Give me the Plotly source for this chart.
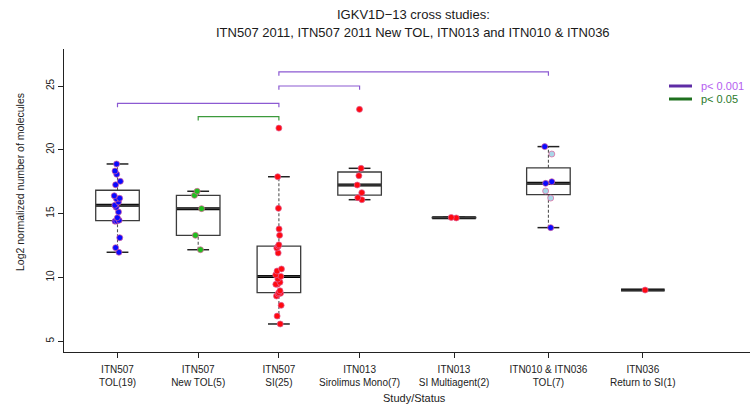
import numpy as np
import plotly.graph_objects as go

# ---- data -------------------------------------------------------------
groups = [
    "ITN507<br>TOL(19)",
    "ITN507<br>New TOL(5)",
    "ITN507<br>SI(25)",
    "ITN013<br>Sirolimus Mono(7)",
    "ITN013<br>SI Multiagent(2)",
    "ITN010 & ITN036<br>TOL(7)",
    "ITN036<br>Return to SI(1)",
]

itn507_tol = [11.97, 12.33, 13.11, 14.40, 14.42, 14.48, 14.68, 15.13, 15.50, 15.65,
              15.91, 16.17, 16.20, 16.40, 17.26, 17.53, 18.08, 18.34, 18.89]
itn507_new_tol = [12.17, 13.30, 15.39, 16.43, 16.75]
itn507_si = [6.35, 6.97, 7.81, 8.54, 8.70, 8.75, 8.80, 8.95, 9.46, 9.46, 9.62, 9.87,
             10.08, 10.20, 10.50, 10.66, 11.91, 12.30, 12.45, 12.55, 13.30, 13.80,
             15.41, 17.89, 21.70]
itn013_siro_mono = [16.09, 16.25, 16.64, 17.24, 17.97, 18.55, 23.17]
itn013_si_multi = [14.66, 14.70]
itn010_036_tol_a = [13.90, 17.37, 17.50, 20.25]      # filled blue
itn010_036_tol_b = [16.22, 16.77, 19.67]             # light blue
itn036_return_si = [9.01]

# pairwise comparisons: (group i, group j, bracket height, significance)
comparisons = [
    (0, 2, 23.64, "p< 0.001"),
    (1, 2, 22.60, "p< 0.05"),
    (2, 3, 25.00, "p< 0.001"),
    (2, 5, 26.10, "p< 0.001"),
]

# ---- layout constants ---------------------------------------------------
positions = [1, 2, 3, 4, 5.17, 6.34, 7.51]
BOX_W = 0.54
FONT = "Liberation Sans, Arial, sans-serif"
BLUE, GREEN, RED, LIGHT = "#0a0aff", "#1fbf1f", "#ff0a10", "#a9d6e8"
EDGE = "#e0609a"
SIG_COLORS = {"p< 0.001": "#8c5ad2", "p< 0.05": "#3c9a3c"}

group_values = [
    itn507_tol, itn507_new_tol, itn507_si, itn013_siro_mono, itn013_si_multi,
    itn010_036_tol_a + itn010_036_tol_b, itn036_return_si,
]

point_sets = [
    (0, itn507_tol, BLUE), (1, itn507_new_tol, GREEN), (2, itn507_si, RED),
    (3, itn013_siro_mono, RED), (4, itn013_si_multi, RED),
    (5, itn010_036_tol_a, BLUE), (5, itn010_036_tol_b, LIGHT),
    (6, itn036_return_si, RED),
]


def fivenum(v):
    """Tukey five-number summary (hinges), as used by boxplot()."""
    x = np.sort(np.asarray(v, float))
    n = len(x)
    n4 = np.floor((n + 3) / 2) / 2
    d = np.array([1, n4, (n + 1) / 2, n + 1 - n4, n])
    return 0.5 * (x[np.floor(d).astype(int) - 1] + x[np.ceil(d).astype(int) - 1])


stats = []
for vals in group_values:
    x = np.asarray(vals, float)
    _, q1, med, q3, _ = fivenum(x)
    iqr = q3 - q1
    lo = x[x >= q1 - 1.5 * iqr].min()
    hi = x[x <= q3 + 1.5 * iqr].max()
    stats.append((q1, med, q3, lo, hi))

fig = go.Figure()

# box bodies
fig.add_trace(go.Box(
    x=positions,
    q1=[s[0] for s in stats], median=[s[1] for s in stats], q3=[s[2] for s in stats],
    lowerfence=[s[0] for s in stats], upperfence=[s[2] for s in stats],
    width=BOX_W, whiskerwidth=0, fillcolor="rgba(0,0,0,0)",
    line=dict(color="#3c3c3c", width=1.3), hoverinfo="skip", showlegend=False,
))

shapes = []
for pos, (q1, med, q3, lo, hi) in zip(positions, stats):
    # dashed whiskers
    for a, b in ((q3, hi), (lo, q1)):
        if b > a:
            shapes.append(dict(type="line", xref="x", yref="y", x0=pos, x1=pos, y0=a, y1=b,
                               line=dict(color="#555555", width=1.1, dash="3px,2px"), layer="below"))
    # staples
    for yv in (lo, hi):
        shapes.append(dict(type="line", xref="x", yref="y", x0=pos - BOX_W / 4, x1=pos + BOX_W / 4,
                           y0=yv, y1=yv, line=dict(color="#222222", width=1.5), layer="below"))
    # heavy median
    shapes.append(dict(type="line", xref="x", yref="y", x0=pos - BOX_W / 2, x1=pos + BOX_W / 2,
                       y0=med, y1=med, line=dict(color="#000000", width=3), layer="below"))

# jittered sample points
for gi, vals, col in point_sets:
    fig.add_trace(go.Box(
        x=[positions[gi]] * len(vals), y=vals, boxpoints="all", jitter=0.2, pointpos=0,
        width=BOX_W, line=dict(width=0), fillcolor="rgba(0,0,0,0)", hoveron="points",
        marker=dict(color=col, size=6, line=dict(color=EDGE, width=0.7)),
        showlegend=False,
    ))

# significance brackets
for i, j, h, sig in comparisons:
    drop = 0.3
    fig.add_trace(go.Scatter(
        x=[positions[i], positions[i], positions[j], positions[j]],
        y=[h - drop, h, h, h - drop], mode="lines",
        line=dict(color=SIG_COLORS[sig], width=1.2), hoverinfo="skip", showlegend=False,
    ))

# key for the brackets
L, T, W, H = 64, 49, 750, 408
PW, PH = W - L, 352 - T
def px(x):
    return (x - L) / PW
def py(y):
    return (352 - y) / PH

legend_items = [("p< 0.001", "#5e2ca5", "#b45ef0", 86), ("p< 0.05", "#1e701e", "#2a7a2a", 99)]
annotations = []
for label, lcol, tcol, yy in legend_items:
    shapes.append(dict(type="line", xref="paper", yref="paper", x0=px(669), x1=px(692),
                       y0=py(yy), y1=py(yy), line=dict(color=lcol, width=3)))
    annotations.append(dict(text=label, xref="paper", yref="paper", x=px(699), y=py(yy),
                            xanchor="left", yanchor="middle", showarrow=False,
                            font=dict(family=FONT, size=11, color=tcol)))

annotations += [
    dict(text="IGKV1D\u221213 cross studies:", xref="paper", yref="paper", x=px(413), y=py(14),
         xanchor="center", yanchor="middle", showarrow=False,
         font=dict(family=FONT, size=13, color="#1a1a1a")),
    dict(text="ITN507 2011, ITN507 2011 New TOL, ITN013 and ITN010 & ITN036", xref="paper",
         yref="paper", x=px(413), y=py(32), xanchor="center", yanchor="middle", showarrow=False,
         font=dict(family=FONT, size=13, color="#1a1a1a")),
    dict(text="Study/Status", xref="paper", yref="paper", x=px(414), y=py(398),
         xanchor="center", yanchor="middle", showarrow=False,
         font=dict(family=FONT, size=11, color="#222")),
    dict(text="Log2 normalized number of molecules", xref="paper", yref="paper", x=px(20),
         y=py(182), xanchor="center", yanchor="middle", textangle=-90, showarrow=False,
         font=dict(family=FONT, size=10.5, color="#222")),
]

fig.update_layout(
    width=W, height=H, margin=dict(l=L, r=0, t=T, b=H - 352),
    plot_bgcolor="white", paper_bgcolor="white", boxmode="overlay",
    showlegend=False, shapes=shapes, annotations=annotations,
    font=dict(family=FONT, color="#222"),
    xaxis=dict(range=[0.337, 8.838], tickvals=positions, ticktext=groups,
               showline=True, linecolor="#222", linewidth=1.2, ticks="outside",
               ticklen=5, tickcolor="#222", showgrid=False, zeroline=False,
               ticklabelstandoff=3,
               tickfont=dict(family=FONT, size=10, color="#222")),
    yaxis=dict(range=[4.154, 27.9], tickvals=[5, 10, 15, 20, 25], tickangle=-90,
               showline=True, linecolor="#222", linewidth=1.2, ticks="outside",
               ticklen=5, tickcolor="#222", showgrid=False, zeroline=False,
               tickfont=dict(family=FONT, size=10, color="#222")),
)

fig.write_html("out.html")
